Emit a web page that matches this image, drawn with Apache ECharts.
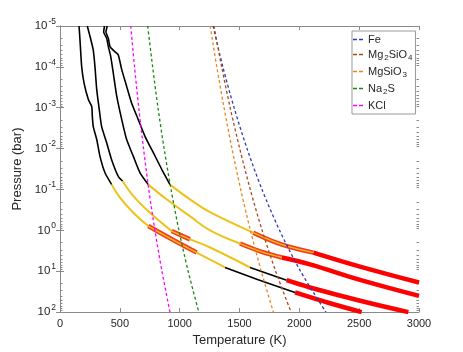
<!DOCTYPE html>
<html>
<head>
<meta charset="utf-8">
<script src="https://cdn.jsdelivr.net/npm/echarts@6/dist/echarts.min.js"></script>
<style>
  html, body { margin: 0; padding: 0; background: #fff; }
  #app { width: 463px; height: 352px; }
</style>
</head>
<body>
<div id="app"></div>
<script>
// condensation curves: temperature (K) at each pressure decade
const condP = [1e-5, 1e-4, 1e-3, 1e-2, 1e-1, 1, 10, 100];
const feT = [1279, 1361, 1455, 1563, 1688, 1835, 2010, 2222];
const mg2sio4T = [1287, 1351, 1422, 1502, 1590, 1689, 1802, 1931];
const mgsio3T = [1255, 1310, 1371, 1437, 1510, 1591, 1682, 1783];
const na2sT = [733, 774, 819, 870, 928, 994, 1071, 1160];
const kclT = [591, 623, 658, 698, 742, 793, 852, 919];

// P-T profiles [T (K), P (bar)], split into regimes at the given temperatures
const profA = [[159,1e-5],[167,2.2e-5],[181,9.8e-5],[201,2.5e-4],[237,6.3e-4],[265,9.3e-4],[270,1.6e-3],[278,2.9e-3],[307,6.0e-3],[334,1.55e-2],[376,3.9e-2],[432,7.6e-2],[501,0.158],[613,0.37],[738,0.785],[947,1.73],[1142,3.5],[1379,8.1],[1650,16],[1964,33],[2250,60],[2521,100]];
const breaksA = [432, 738, 1142, 1379, 1964];
const kindsA = ['dry', 'cloud', 'mix', 'cloud', 'dry', 'deep'];

const profB = [[228,1e-5],[251,1.8e-5],[278,3.9e-5],[292,9.8e-5],[307,3.6e-4],[328,1.1e-3],[348,2.9e-3],[390,7.2e-3],[432,1.9e-2],[487,4.8e-2],[524,6.3e-2],[613,0.145],[752,0.37],[933,1.04],[1086,1.66],[1254,2.63],[1588,8.1],[1894,16.6],[2089,25],[2500,52],[2911,100]];
const breaksB = [524, 933, 1086, 1588, 1894];
const kindsB = ['dry', 'cloud', 'mix', 'cloud', 'dry', 'deep'];

const profC = [[372,1e-5],[365,1.4e-5],[390,2e-5],[404,3.2e-5],[424,5.6e-5],[445,1.4e-4],[474,5.2e-4],[516,1.95e-3],[557,6.0e-3],[613,1.55e-2],[669,3.9e-2],[738,7.6e-2],[891,0.174],[1086,0.45],[1254,1.0],[1504,2.1],[1680,3.3],[1853,4.6],[2089,6.8],[2500,16],[3000,40]];
const breaksC = [738, 1504, 1853];
const kindsC = ['dry', 'cloud', 'mix', 'deep'];

const profD = [[395,1e-5],[384,1.4e-5],[404,2e-5],[418,3.2e-5],[460,4.3e-5],[487,5.1e-5],[516,1.17e-4],[557,3.0e-4],[599,7.8e-4],[654,1.95e-3],[710,5.0e-3],[780,1.26e-2],[850,3.2e-2],[919,7.6e-2],[1086,0.174],[1254,0.36],[1615,1.14],[1850,2.2],[2117,3.5],[2500,7.6],[3000,18.9]];
const breaksD = [919, 1615, 2117];
const kindsD = ['dry', 'cloud', 'mix', 'deep'];

const FONT = 'Liberation Sans';
const YELLOW = '#EEC21B';
const RED = '#FF0000';

const chart = echarts.init(document.getElementById('app'));

// split a profile into regime segments (neighbouring segments share the break point)
function segments(pts, breaks, kinds) {
  const idx = [0];
  let from = 0;
  breaks.forEach(t => {
    const k = pts.findIndex((p, j) => j >= from && p[0] === t);
    idx.push(k);
    from = k;
  });
  idx.push(pts.length - 1);
  return kinds.map((k, i) => ({ kind: k, data: pts.slice(idx[i], idx[i + 1] + 1) }));
}

function line(data, color, width, z, smooth) {
  return {
    type: 'line', data: data, symbol: 'none', showSymbol: false, silent: true,
    smooth: smooth, lineStyle: { color: color, width: width }, z: z, animation: false
  };
}

const series = [];
[[profA, breaksA, kindsA], [profB, breaksB, kindsB], [profC, breaksC, kindsC], [profD, breaksD, kindsD]].forEach(([p, br, kd]) => {
  segments(p, br, kd).forEach(s => {
    if (s.kind === 'dry') series.push(line(s.data, '#000', 1.6, 2, 0.2));
    if (s.kind === 'cloud') series.push(line(s.data, YELLOW, 2, 2, 0.4));
    if (s.kind === 'deep') series.push(line(s.data, RED, 4.5, 2, 0.4));
    if (s.kind === 'mix') {
      series.push(line(s.data, '#F53A1E', 4.5, 3, 0.4));
      series.push(line(s.data, YELLOW, 1.4, 4, 0.4));
    }
  });
});

const cond = [
  ['Fe', feT, '#2A3BB5'],
  ['Mg2SiO4', mg2sio4T, '#A84A1E'],
  ['MgSiO3', mgsio3T, '#E8861C'],
  ['Na2S', na2sT, '#138A13'],
  ['KCl', kclT, '#FF00FF']
];
cond.forEach(([name, ts, color]) => {
  series.push({
    name: name, type: 'line', symbol: 'none', showSymbol: false, smooth: 0.3, animation: false,
    data: ts.map((t, i) => [t, condP[i]]),
    lineStyle: { color: color, width: 1.3, type: [3, 2.5] },
    itemStyle: { color: color },
    z: 5
  });
});

const legendText = {
  'Fe': '{n|Fe}',
  'Mg2SiO4': '{n|Mg}{s|2}{n|SiO}{s|4}',
  'MgSiO3': '{n|MgSiO}{s|3}',
  'Na2S': '{n|Na}{s|2}{n|S}',
  'KCl': '{n|KCl}'
};

// minor log ticks 2..9 x 10^k
const minorP = [];
for (let e = -5; e < 2; e++) for (let m = 2; m <= 9; m++) minorP.push(m * Math.pow(10, e));

const axisGray = '#8a8a8a';
const txt = '#262626';

const yBase = {
  type: 'log', logBase: 10, min: 1e-5, max: 100, interval: 1, inverse: true,
  splitLine: { show: false }
};

chart.setOption({
  animation: false,
  grid: { left: 60, right: 44, top: 26, bottom: 39 },
  legend: {
    data: cond.map(c => c[0]),
    orient: 'vertical', left: 352, top: 31,
    backgroundColor: '#fff', borderColor: '#999', borderWidth: 1, borderRadius: 0,
    padding: [3, 3, 3, 1], itemGap: 4, itemWidth: 10, itemHeight: 8,
    icon: 'path://M0,4h4v1.4h-4z M6,4h4v1.4h-4z',
    formatter: n => legendText[n],
    textStyle: {
      rich: {
        n: { fontFamily: FONT, fontSize: 11, color: txt, lineHeight: 15 },
        s: { fontFamily: FONT, fontSize: 8, color: txt, verticalAlign: 'bottom', lineHeight: 8, padding: [0, 0, 0, 1] }
      }
    }
  },
  xAxis: [{
    type: 'value', min: 0, max: 3000, interval: 500,
    name: 'Temperature (K)', nameLocation: 'middle', nameGap: 20,
    nameTextStyle: { fontFamily: FONT, fontSize: 13, color: txt },
    axisLine: { lineStyle: { color: axisGray } },
    axisTick: { inside: true, length: 4, lineStyle: { color: axisGray } },
    axisLabel: { fontFamily: FONT, fontSize: 11, color: txt, margin: 6, formatter: v => String(v) },
    splitLine: { show: false }
  }, {
    type: 'value', min: 0, max: 3000, interval: 500, position: 'top',
    axisLine: { show: true, lineStyle: { color: axisGray } },
    axisTick: { inside: true, length: 4, lineStyle: { color: axisGray } },
    axisLabel: { show: false }, splitLine: { show: false }
  }],
  yAxis: [Object.assign({}, yBase, {
    name: 'Pressure (bar)', nameLocation: 'middle', nameGap: 30,
    nameTextStyle: { fontFamily: FONT, fontSize: 13, color: txt },
    axisLine: { show: true, lineStyle: { color: axisGray } },
    axisTick: { inside: true, length: 4, lineStyle: { color: axisGray } },
    axisLabel: {
      margin: 4,
      formatter: v => '{b|10}{e|' + Math.round(Math.log10(v)) + '}',
      rich: {
        b: { fontFamily: FONT, fontSize: 11.5, color: txt, lineHeight: 18 },
        e: { fontFamily: FONT, fontSize: 8.5, color: txt, verticalAlign: 'top', lineHeight: 10, padding: [0, 0, 0, 1] }
      }
    }
  }), Object.assign({}, yBase, {
    position: 'right',
    axisLine: { show: true, lineStyle: { color: axisGray } },
    axisTick: { inside: true, length: 4, lineStyle: { color: axisGray } },
    axisLabel: { show: false }
  }), Object.assign({}, yBase, {
    position: 'left',
    axisLine: { show: false },
    axisTick: { inside: true, length: 2.5, customValues: minorP, lineStyle: { color: axisGray } },
    axisLabel: { show: false }
  }), Object.assign({}, yBase, {
    position: 'right',
    axisLine: { show: false },
    axisTick: { inside: true, length: 2.5, customValues: minorP, lineStyle: { color: axisGray } },
    axisLabel: { show: false }
  })],
  series: series
});
</script>
</body>
</html>
